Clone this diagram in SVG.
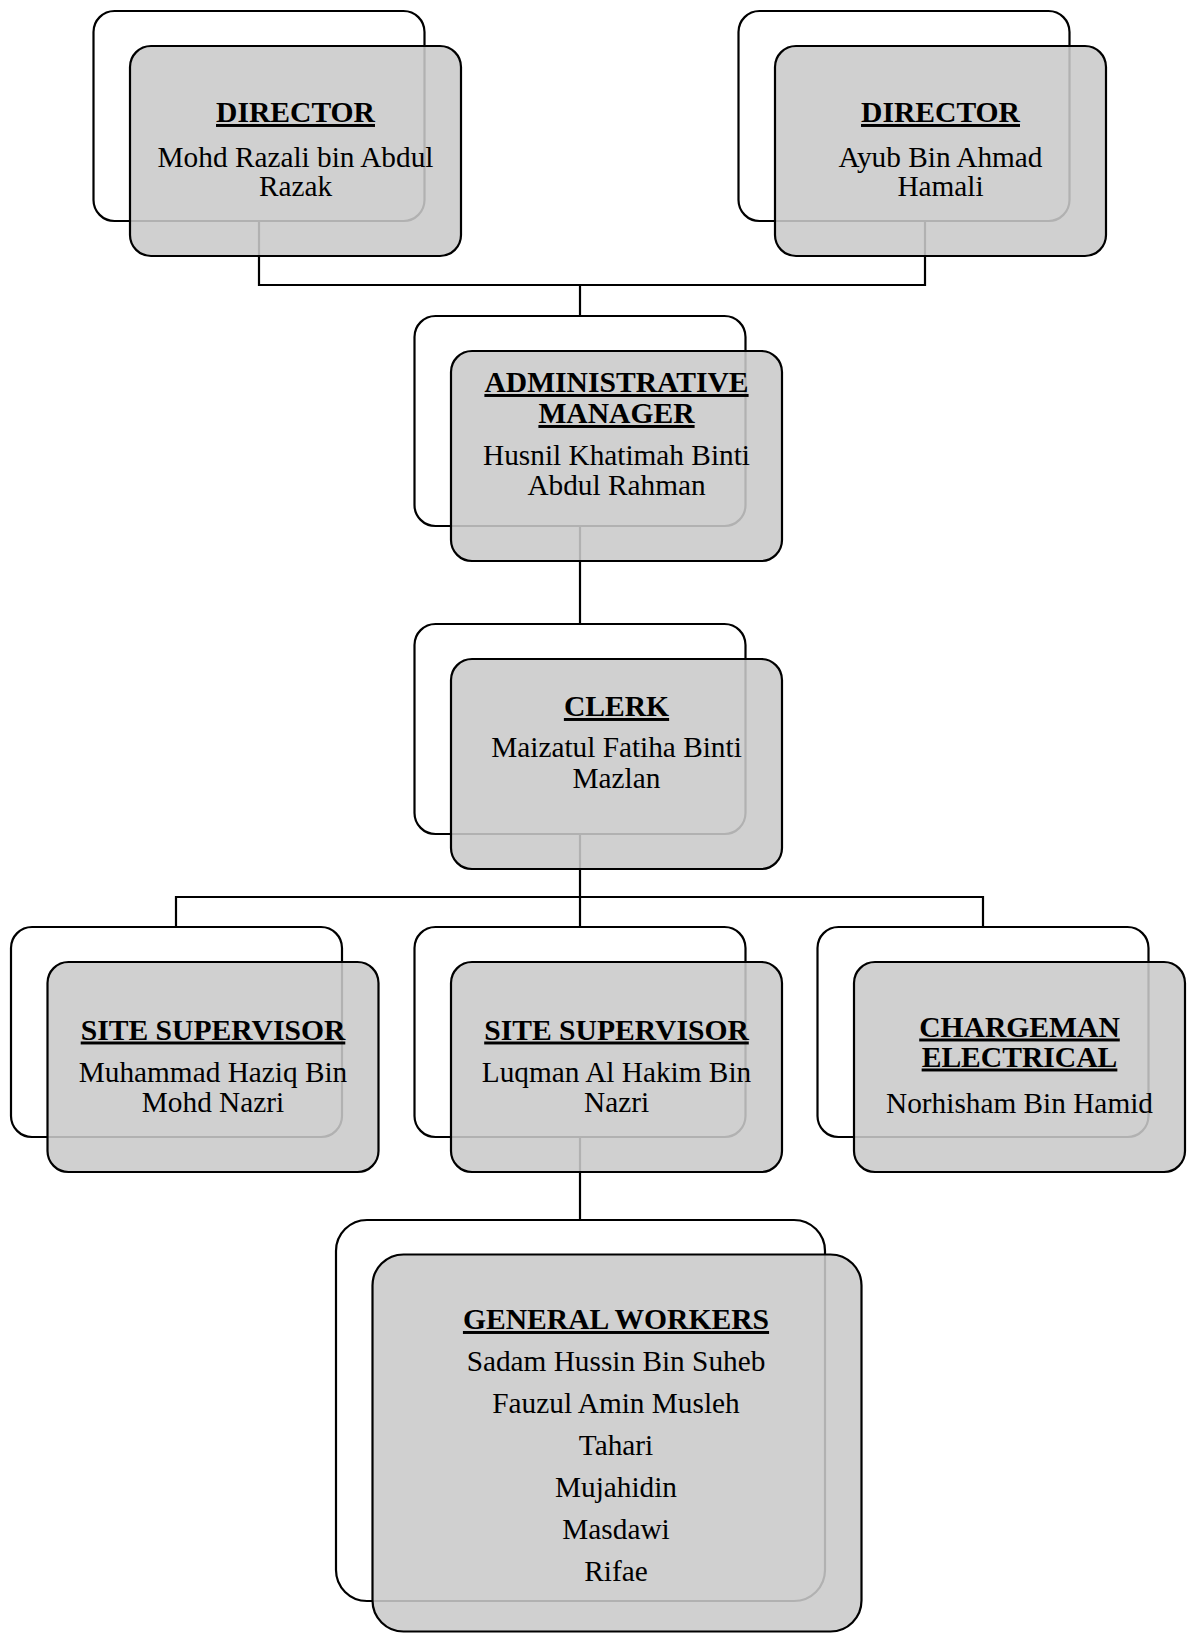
<svg xmlns="http://www.w3.org/2000/svg" width="1187" height="1633" viewBox="0 0 1187 1633">
<style>
.bg{fill:#ffffff;stroke:#000;stroke-width:2.2}
.fg{fill:#c9c9c9;fill-opacity:0.88;stroke:#000;stroke-width:2.2}
.conn{fill:none;stroke:#000;stroke-width:2.2}
text{font-family:"Liberation Serif","Times New Roman",serif;fill:#000;text-anchor:middle}
.t{font-weight:bold;font-size:29.6px;text-decoration:underline}
.n{font-size:29.3px}
</style>
<rect width="1187" height="1633" fill="#fff"/>
<g id="connectors">
<path class="conn" d="M259,221 V285 H925 V221"/>
<path class="conn" d="M580,285 V316"/>
<path class="conn" d="M580,526 V624"/>
<path class="conn" d="M580,834 V897"/>
<path class="conn" d="M176,927 V897 H983 V927"/>
<path class="conn" d="M580,897 V927"/>
<path class="conn" d="M580,1137 V1220"/>
</g>
<g id="director1">
<rect class="bg" x="93.5" y="11" width="331" height="210" rx="21"/>
<rect class="fg" x="130" y="46" width="331" height="210" rx="21"/>
<text class="t" x="295.5" y="122">DIRECTOR</text>
<text class="n" x="295.5" y="166.5">Mohd Razali bin Abdul</text>
<text class="n" x="295.5" y="196">Razak</text>
</g>
<g id="director2">
<rect class="bg" x="738.5" y="11" width="331" height="210" rx="21"/>
<rect class="fg" x="775" y="46" width="331" height="210" rx="21"/>
<text class="t" x="940.5" y="122">DIRECTOR</text>
<text class="n" x="940.5" y="166.5">Ayub Bin Ahmad</text>
<text class="n" x="940.5" y="196">Hamali</text>
</g>
<g id="admin-manager">
<rect class="bg" x="414.5" y="316" width="331" height="210" rx="21"/>
<rect class="fg" x="451" y="351" width="331" height="210" rx="21"/>
<text class="t" x="616.5" y="392">ADMINISTRATIVE</text>
<text class="t" x="616.5" y="423">MANAGER</text>
<text class="n" x="616.5" y="465">Husnil Khatimah Binti</text>
<text class="n" x="616.5" y="495">Abdul Rahman</text>
</g>
<g id="clerk">
<rect class="bg" x="414.5" y="624" width="331" height="210" rx="21"/>
<rect class="fg" x="451" y="659" width="331" height="210" rx="21"/>
<text class="t" x="616.5" y="716">CLERK</text>
<text class="n" x="616.5" y="757">Maizatul Fatiha Binti</text>
<text class="n" x="616.5" y="788">Mazlan</text>
</g>
<g id="site-supervisor1">
<rect class="bg" x="11" y="927" width="331" height="210" rx="21"/>
<rect class="fg" x="47.5" y="962" width="331" height="210" rx="21"/>
<text class="t" x="213" y="1039.5">SITE SUPERVISOR</text>
<text class="n" x="213" y="1081.5">Muhammad Haziq Bin</text>
<text class="n" x="213" y="1111.5">Mohd Nazri</text>
</g>
<g id="site-supervisor2">
<rect class="bg" x="414.5" y="927" width="331" height="210" rx="21"/>
<rect class="fg" x="451" y="962" width="331" height="210" rx="21"/>
<text class="t" x="616.5" y="1039.5">SITE SUPERVISOR</text>
<text class="n" x="616.5" y="1081.5">Luqman Al Hakim Bin</text>
<text class="n" x="616.5" y="1111.5">Nazri</text>
</g>
<g id="chargeman">
<rect class="bg" x="817.5" y="927" width="331" height="210" rx="21"/>
<rect class="fg" x="854" y="962" width="331" height="210" rx="21"/>
<text class="t" x="1019.5" y="1036.5">CHARGEMAN</text>
<text class="t" x="1019.5" y="1066.5">ELECTRICAL</text>
<text class="n" x="1019.5" y="1113">Norhisham Bin Hamid</text>
</g>
<g id="general-workers">
<rect class="bg" x="336" y="1220" width="489" height="381" rx="31"/>
<rect class="fg" x="372.5" y="1254.5" width="489" height="377" rx="31"/>
<text class="t" x="616" y="1329">GENERAL WORKERS</text>
<text class="n" x="616" y="1371">Sadam Hussin Bin Suheb</text>
<text class="n" x="616" y="1413">Fauzul Amin Musleh</text>
<text class="n" x="616" y="1455">Tahari</text>
<text class="n" x="616" y="1497">Mujahidin</text>
<text class="n" x="616" y="1539">Masdawi</text>
<text class="n" x="616" y="1581">Rifae</text>
</g>
</svg>
